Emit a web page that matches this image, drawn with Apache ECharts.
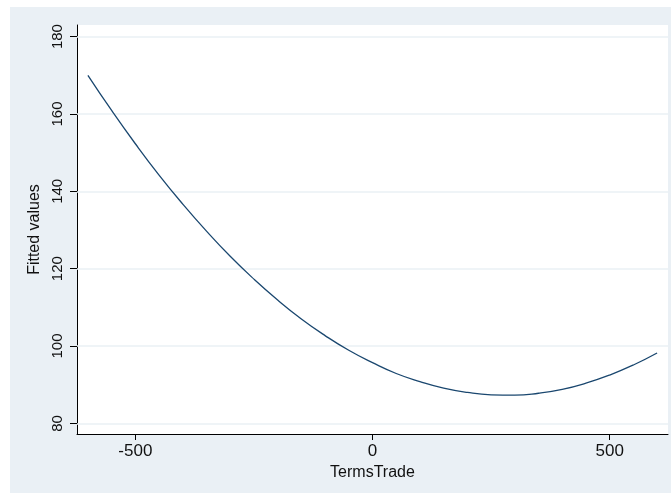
<!DOCTYPE html>
<html>
<head>
<meta charset="utf-8">
<script src="https://cdn.jsdelivr.net/npm/echarts@6/dist/echarts.min.js"></script>
<style>
html,body{margin:0;padding:0;background:#ffffff;}
#chart{width:671px;height:493px;}
</style>
</head>
<body>
<div id="chart"></div>
<script>
// Data (TermsTrade vs fitted values)
var termsTrade = [-600,-550,-500,-450,-400,-350,-300,-250,-200,-150,-100,-50,0,50,100,150,200,250,300,350,400,450,500,550,600];
var fittedValues = [170.0,160.9,152.3,144.2,136.7,129.7,123.2,117.3,111.9,107.0,102.7,98.9,95.7,92.9,90.8,89.1,88.0,87.4,87.3,87.8,88.8,90.4,92.5,95.1,98.2];
var xTicks = [-500,0,500];
var yTicks = [80,100,120,140,160,180];
var xTitle = 'TermsTrade';
var yTitle = 'Fitted values';

var points = termsTrade.map(function(x,i){return [x, fittedValues[i]];});

var chart = echarts.init(document.getElementById('chart'), null, {renderer:'canvas'});
chart.setOption({
  animation:false,
  backgroundColor:'#ffffff',
  graphic:[{
    type:'rect', z:-10, silent:true,
    shape:{x:10,y:7,width:661,height:486},
    style:{fill:'#eaf0f5'}
  }],
  grid:{left:77,top:25,right:3,bottom:59,show:true,backgroundColor:'#ffffff',borderWidth:0},
  xAxis:{
    type:'value', min:-623, max:623,
    name:xTitle, nameLocation:'middle', nameGap:24,
    nameTextStyle:{fontFamily:'Liberation Sans, Arial, sans-serif',fontSize:16,color:'#111'},
    axisLine:{show:true,onZero:false,lineStyle:{color:'#000',width:1}},
    axisTick:{show:true,length:6,customValues:xTicks,lineStyle:{color:'#000'}},
    axisLabel:{customValues:xTicks,margin:9,fontFamily:'Liberation Sans, Arial, sans-serif',fontSize:17,color:'#111'},
    splitLine:{show:false}
  },
  yAxis:{
    type:'value', min:77.26, max:183,
    name:yTitle, nameLocation:'middle', nameGap:29,
    nameTextStyle:{fontFamily:'Liberation Sans, Arial, sans-serif',fontSize:16,color:'#111'},
    axisLine:{show:true,onZero:false,lineStyle:{color:'#000',width:1}},
    axisTick:{show:true,length:7,customValues:yTicks,lineStyle:{color:'#000'}},
    axisLabel:{customValues:yTicks,rotate:90,margin:12,fontFamily:'Liberation Sans Narrow, Liberation Sans, Arial, sans-serif',fontSize:15,color:'#111'},
    splitLine:{show:false}
  },
  series:[{
    type:'line',
    data:points,
    smooth:true,
    showSymbol:false,
    lineStyle:{color:'#1a476f',width:1.3},
    markLine:{
      silent:true, symbol:'none', z:1,
      label:{show:false},
      lineStyle:{color:'#eaf0f5',width:1.5,type:'solid'},
      data:yTicks.map(function(v){return {yAxis:v};})
    }
  }]
});
</script>
</body>
</html>
